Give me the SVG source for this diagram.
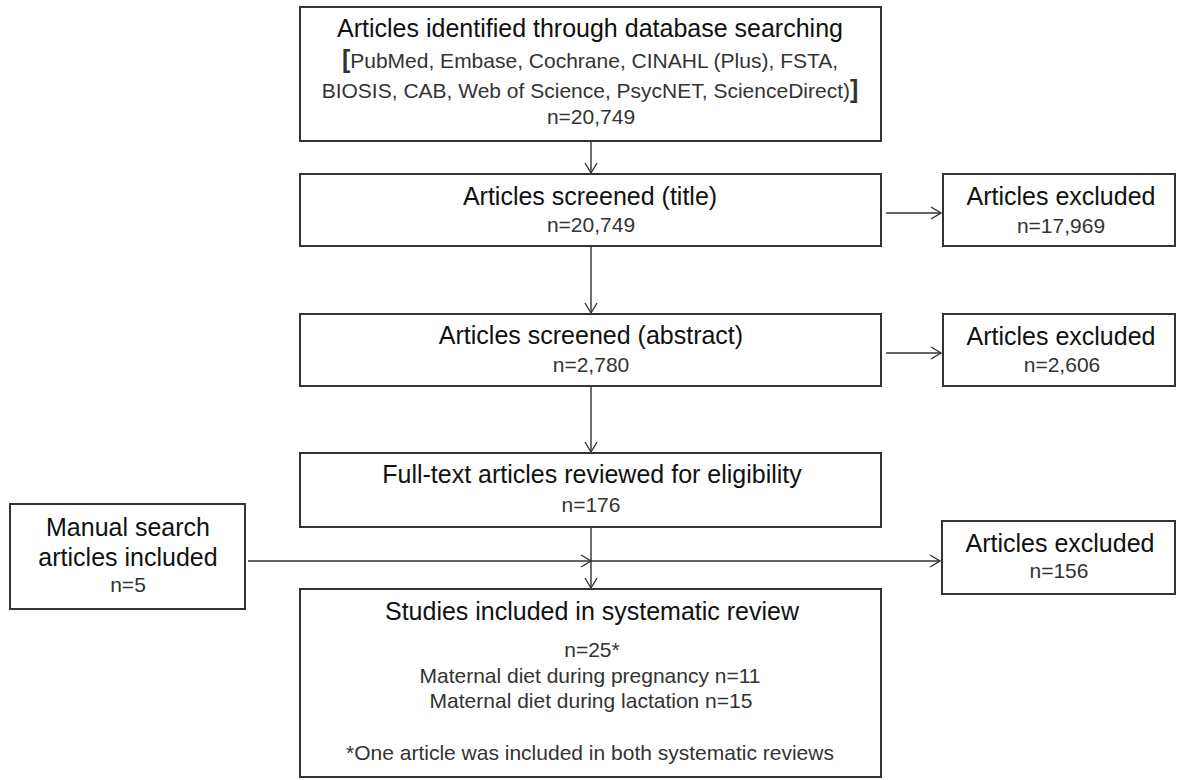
<svg xmlns="http://www.w3.org/2000/svg" width="1177" height="780" viewBox="0 0 1177 780">
<style>
.box{fill:#fff;stroke:#333;stroke-width:2}
.t{font-family:"Liberation Sans",Arial,sans-serif;font-size:25px;fill:#111;text-anchor:middle}
.n{font-family:"Liberation Sans",Arial,sans-serif;font-size:21px;fill:#333;text-anchor:middle}
.c{fill:none;stroke:#333;stroke-width:1.4}
</style>
<defs>
<marker id="ah" markerUnits="userSpaceOnUse" markerWidth="14" markerHeight="16" refX="11" refY="7" orient="auto">
<path d="M1,1 L11,7 L1,13" fill="none" stroke="#333" stroke-width="1.4"/>
</marker>
</defs>
<rect width="1177" height="780" fill="#fff"/>
<g id="connectors">
<line class="c" x1="591" y1="141" x2="591" y2="173" marker-end="url(#ah)"/>
<line class="c" x1="591" y1="246" x2="591" y2="313" marker-end="url(#ah)"/>
<line class="c" x1="591" y1="386" x2="591" y2="452" marker-end="url(#ah)"/>
<line class="c" x1="591" y1="527" x2="591" y2="588" marker-end="url(#ah)"/>
<line class="c" x1="886" y1="213" x2="941" y2="213" marker-end="url(#ah)"/>
<line class="c" x1="886" y1="353" x2="941" y2="353" marker-end="url(#ah)"/>
<line class="c" x1="248" y1="561" x2="591" y2="561" marker-end="url(#ah)"/>
<line class="c" x1="591" y1="561" x2="940" y2="561" marker-end="url(#ah)"/>
</g>
<g id="identified">
<rect class="box" x="300" y="7" width="581" height="134"/>
<text class="t" x="590" y="37">Articles identified through database searching</text>
<text class="n" x="590" y="68"><tspan font-size="25" font-weight="bold">[</tspan>PubMed, Embase, Cochrane, CINAHL (Plus),  FSTA,</text>
<text class="n" x="590" y="98">BIOSIS,  CAB, Web of Science, PsycNET,  ScienceDirect)<tspan font-size="25" font-weight="bold">]</tspan></text>
<text class="n" x="591" y="124">n=20,749</text>
</g>
<g id="screened-title">
<rect class="box" x="300" y="174" width="581" height="72"/>
<text class="t" x="590" y="205">Articles screened (title)</text>
<text class="n" x="591" y="232">n=20,749</text>
</g>
<g id="excluded-1">
<rect class="box" x="943" y="174" width="232" height="72"/>
<text class="t" x="1061" y="205">Articles excluded</text>
<text class="n" x="1061" y="233">n=17,969</text>
</g>
<g id="screened-abstract">
<rect class="box" x="300" y="314" width="581" height="72"/>
<text class="t" x="591" y="344">Articles screened (abstract)</text>
<text class="n" x="591" y="372">n=2,780</text>
</g>
<g id="excluded-2">
<rect class="box" x="943" y="314" width="232" height="72"/>
<text class="t" x="1061" y="345">Articles excluded</text>
<text class="n" x="1062" y="372">n=2,606</text>
</g>
<g id="fulltext">
<rect class="box" x="300" y="453" width="581" height="74"/>
<text class="t" x="592" y="483">Full-text articles reviewed for eligibility</text>
<text class="n" x="591" y="512">n=176</text>
</g>
<g id="manual">
<rect class="box" x="10" y="504" width="235" height="105"/>
<text class="t" x="128" y="536">Manual  search</text>
<text class="t" x="128" y="566">articles included</text>
<text class="n" x="128" y="592">n=5</text>
</g>
<g id="excluded-3">
<rect class="box" x="942" y="521" width="233" height="73"/>
<text class="t" x="1060" y="552">Articles excluded</text>
<text class="n" x="1059" y="578">n=156</text>
</g>
<g id="included">
<rect class="box" x="300" y="589" width="581" height="188"/>
<text class="t" x="592" y="620">Studies included in systematic review</text>
<text class="n" x="592" y="657">n=25*</text>
<text class="n" x="590" y="683">Maternal diet during pregnancy  n=11</text>
<text class="n" x="591" y="708">Maternal diet during lactation n=15</text>
<text class="n" x="590" y="760">*One article was included in both systematic reviews</text>
</g>
</svg>
